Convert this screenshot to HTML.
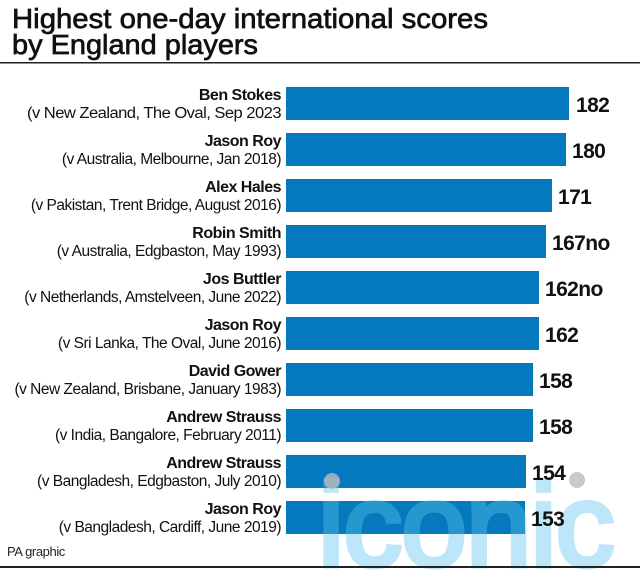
<!DOCTYPE html>
<html><head><meta charset="utf-8"><style>
body{margin:0;background:#fff;}
svg{display:block;font-family:"Liberation Sans",sans-serif;}
</style></head><body>
<svg width="640" height="570" viewBox="0 0 640 570" xmlns="http://www.w3.org/2000/svg">
<rect width="640" height="570" fill="#fff"/>
<text x="12" y="28" font-size="28" stroke="#111" stroke-width="0.7" textLength="476" lengthAdjust="spacingAndGlyphs" fill="#111">Highest one-day international scores</text>
<text x="12" y="54" font-size="28" stroke="#111" stroke-width="0.7" textLength="246" lengthAdjust="spacingAndGlyphs" fill="#111">by England players</text>
<rect x="0" y="62" width="640" height="1.5" fill="#222"/>
<g fill="#0479bd">
<rect x="286" y="87" width="283" height="33"/>
<rect x="286" y="133" width="280" height="33"/>
<rect x="286" y="179" width="266" height="33"/>
<rect x="286" y="225" width="260" height="33"/>
<rect x="286" y="271" width="253" height="33"/>
<rect x="286" y="317" width="253" height="33"/>
<rect x="286" y="363" width="247" height="33"/>
<rect x="286" y="409" width="247" height="33"/>
<rect x="286" y="455" width="240" height="33"/>
<rect x="286" y="501" width="239" height="33"/>
</g>
<text x="318" y="566" font-size="118" fill="#5cc4ee" stroke="#5cc4ee" stroke-width="5" opacity="0.4" letter-spacing="-1">iconic</text>
<g text-anchor="end" fill="#111" letter-spacing="-0.5">
<text x="281" y="100" font-size="16" font-weight="bold">Ben Stokes</text>
<text x="281" y="118" font-size="15.5" textLength="254" lengthAdjust="spacingAndGlyphs">(v New Zealand, The Oval, Sep 2023</text>
<text x="281" y="146" font-size="16" font-weight="bold">Jason Roy</text>
<text x="281" y="164" font-size="15.5">(v Australia, Melbourne, Jan 2018)</text>
<text x="281" y="192" font-size="16" font-weight="bold">Alex Hales</text>
<text x="281" y="210" font-size="15.5">(v Pakistan, Trent Bridge, August 2016)</text>
<text x="281" y="238" font-size="16" font-weight="bold">Robin Smith</text>
<text x="281" y="256" font-size="15.5">(v Australia, Edgbaston, May 1993)</text>
<text x="281" y="284" font-size="16" font-weight="bold">Jos Buttler</text>
<text x="281" y="302" font-size="15.5">(v Netherlands, Amstelveen, June 2022)</text>
<text x="281" y="330" font-size="16" font-weight="bold">Jason Roy</text>
<text x="281" y="348" font-size="15.5">(v Sri Lanka, The Oval, June 2016)</text>
<text x="281" y="376" font-size="16" font-weight="bold">David Gower</text>
<text x="281" y="394" font-size="15.5">(v New Zealand, Brisbane, January 1983)</text>
<text x="281" y="422" font-size="16" font-weight="bold">Andrew Strauss</text>
<text x="281" y="440" font-size="15.5">(v India, Bangalore, February 2011)</text>
<text x="281" y="468" font-size="16" font-weight="bold">Andrew Strauss</text>
<text x="281" y="486" font-size="15.5">(v Bangladesh, Edgbaston, July 2010)</text>
<text x="281" y="514" font-size="16" font-weight="bold">Jason Roy</text>
<text x="281" y="532" font-size="15.5">(v Bangladesh, Cardiff, June 2019)</text>
</g>
<g font-size="21" font-weight="bold" fill="#111" letter-spacing="-0.6">
<text x="576" y="112">182</text>
<text x="572" y="158">180</text>
<text x="558" y="204">171</text>
<text x="552" y="250">167no</text>
<text x="545" y="296">162no</text>
<text x="545" y="342">162</text>
<text x="539" y="388">158</text>
<text x="539" y="434">158</text>
<text x="532" y="480">154</text>
<text x="531" y="526">153</text>
</g>
<circle cx="332" cy="481" r="8" fill="#bbb" opacity="0.8"/>
<circle cx="577" cy="480" r="8" fill="#bbb" opacity="0.8"/>
<text x="7" y="556" font-size="13" letter-spacing="-0.4" fill="#222">PA graphic</text>
<rect x="0" y="566" width="640" height="2" fill="#222"/>
</svg>
</body></html>
